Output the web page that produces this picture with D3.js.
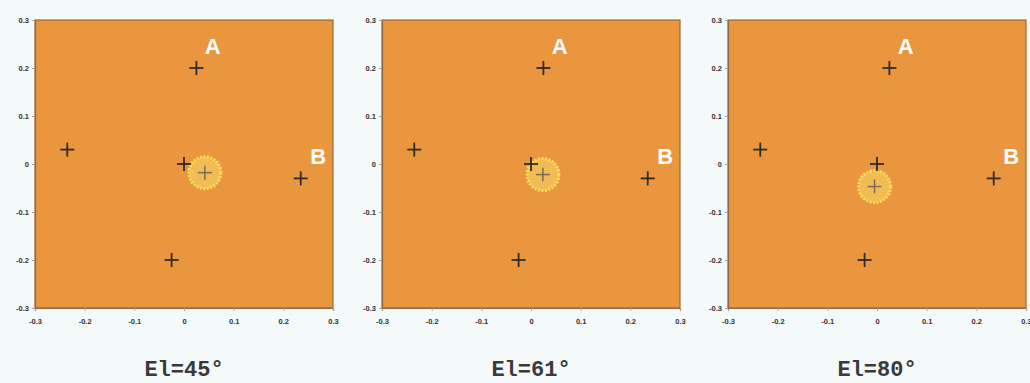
<!DOCTYPE html>
<html><head><meta charset="utf-8">
<script src="https://cdn.jsdelivr.net/npm/d3@7"></script>
<style>
html,body{margin:0;padding:0;background:#f4f9fa;}
svg{display:block;}
</style></head>
<body>
<svg id="chart" width="1030" height="383"></svg>
<script>
// Data
const panelTitles = ["El=45°", "El=61°", "El=80°"];
const tickValues = [-0.3, -0.2, -0.1, 0, 0.1, 0.2, 0.3];
const tickLabels = ["-0.3", "-0.2", "-0.1", "0", "0.1", "0.2", "0.3"];
// fixed reference points (same in every panel)
const pointX = [0.025, -0.235, 0, 0.235, -0.025];
const pointY = [0.2, 0.03, 0, -0.03, -0.2];
// highlighted (estimated) point per panel
const highlightX = [0.042, 0.024, -0.005];
const highlightY = [-0.018, -0.022, -0.047];
const labelNames = ["A", "B"];
const labelX = [0.058, 0.27];
const labelY = [0.245, 0.015];

const svg = d3.select("#chart");
const panelLeft = [35, 382, 728];
const plotW = 298, plotTop = 20, plotH = 288;

panelTitles.forEach((title, i) => {
  const x = d3.scaleLinear().domain([-0.3, 0.3]).range([panelLeft[i], panelLeft[i] + plotW]);
  const y = d3.scaleLinear().domain([-0.3, 0.3]).range([plotTop + plotH, plotTop]);
  const g = svg.append("g");

  g.append("rect").attr("x", x(-0.3)).attr("y", y(0.3))
    .attr("width", x(0.3) - x(-0.3)).attr("height", y(-0.3) - y(0.3))
    .attr("fill", "#e9963f").attr("stroke", "#9a6a3a").attr("stroke-width", 1.2);

  const xAxis = d3.axisBottom(x).tickValues(tickValues).tickFormat((d, k) => tickLabels[k]).tickSize(3).tickPadding(8);
  const yAxis = d3.axisLeft(y).tickValues(tickValues).tickFormat((d, k) => tickLabels[k]).tickSize(3).tickPadding(3);
  const gx = g.append("g").attr("transform", `translate(0,${y(-0.3)})`).call(xAxis);
  const gy = g.append("g").attr("transform", `translate(${x(-0.3)},0)`).call(yAxis);
  [gx, gy].forEach(ax => {
    ax.select(".domain").attr("stroke", "#8a6a4a").attr("stroke-width", 1.2);
    ax.selectAll(".tick line").attr("stroke", "#b0a090");
    ax.selectAll("text").attr("font-family", "Arial, Liberation Sans, sans-serif")
      .attr("font-size", 7.5).attr("font-weight", "bold").attr("fill", "#333");
  });

  // highlight
  g.append("circle").attr("cx", x(highlightX[i])).attr("cy", y(highlightY[i])).attr("r", 16)
    .attr("fill", "#f3c056").attr("fill-opacity", 0.9)
    .attr("stroke", "#fbe25a").attr("stroke-width", 3).attr("stroke-dasharray", "2,1.5");

  const cross = (cx, cy, col, sw) => {
    g.append("line").attr("x1", cx - 7).attr("x2", cx + 7).attr("y1", cy).attr("y2", cy)
      .attr("stroke", col).attr("stroke-width", sw);
    g.append("line").attr("x1", cx).attr("x2", cx).attr("y1", cy - 7).attr("y2", cy + 7)
      .attr("stroke", col).attr("stroke-width", sw);
  };
  pointX.forEach((px, k) => cross(x(px), y(pointY[k]), "#2e2a26", 1.8));
  cross(x(highlightX[i]), y(highlightY[i]), "#7c6a58", 1.5);

  labelNames.forEach((n, k) => {
    g.append("text").attr("x", x(labelX[k])).attr("y", y(labelY[k]))
      .attr("text-anchor", "middle").attr("dominant-baseline", "central")
      .attr("font-family", "Arial, Liberation Sans, sans-serif").attr("font-weight", "bold")
      .attr("font-size", 22).attr("fill", "#ffffff").text(n);
  });

  svg.append("text").attr("x", x(0)).attr("y", 376).attr("text-anchor", "middle")
    .attr("font-family", "'Courier New', 'Liberation Mono', monospace").attr("font-weight", "bold")
    .attr("font-size", 22).attr("fill", "#3a3a3a").text(title);
});
</script>
</body></html>
